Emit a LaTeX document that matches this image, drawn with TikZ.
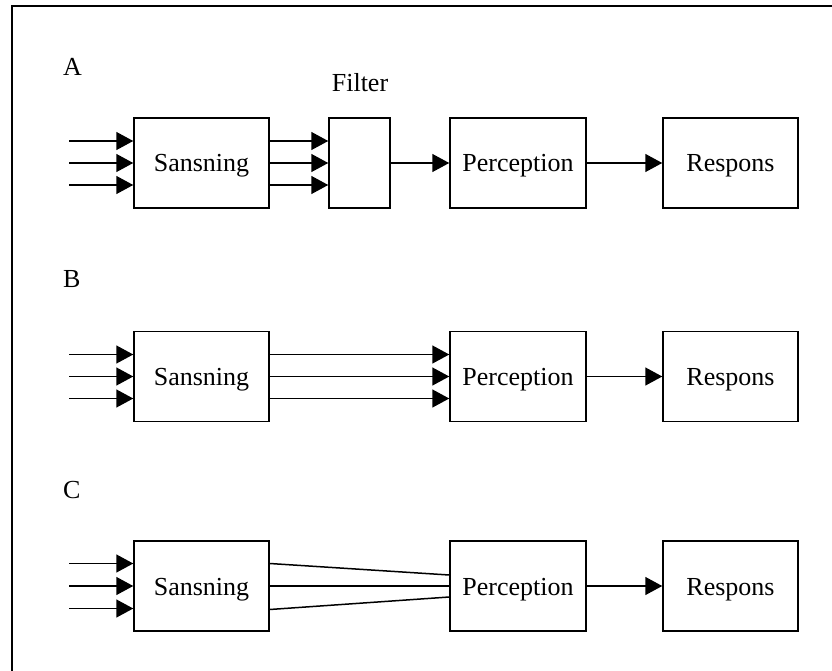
\documentclass[tikz,border=0pt]{standalone}
\usepackage{fontspec}
\setmainfont{Liberation Serif}
\usetikzlibrary{arrows.meta}
\begin{document}
\begin{tikzpicture}[x=1pt,y=-1pt,
  box/.style={draw,line width=1.5pt,minimum height=90pt,inner sep=0pt,
    text height=18pt,text depth=0pt,font=\fontsize{26}{30}\selectfont},
  lbl/.style={anchor=base west,inner sep=0pt,font=\fontsize{26}{30}\selectfont},
  conn/.style={line width=1.5pt},
  arr/.style={conn,-{Triangle[length=17pt,width=18pt]}},
  frame/.style={line width=2pt}]
\useasboundingbox (0,0) rectangle (832,671);
\coordinate (f0) at (12,671);
\coordinate (f1) at (12,6.5);
\coordinate (f2) at (832,6.5);
\draw[frame] (f0) -- (f1) -- (f2);

% Row A
\node[lbl] (la) at (63,76) {A};
\node[box,minimum width=135pt] (sa) at (201.5,163) {Sansning};
\node[box,minimum width=61pt] (fa) at (359.5,163) {};
\node[inner sep=0pt,anchor=base,font=\fontsize{26}{30}\selectfont] (fl) at (360,92) {Filter};
\node[box,minimum width=136pt] (pa) at (518,163) {Perception};
\node[box,minimum width=135pt] (ra) at (730.5,163) {Respons};
\foreach \d in {22,0,-22}{
  \draw[arr] ([xshift=-64pt,yshift=\d pt]sa.west) -- ([yshift=\d pt]sa.west);
  \draw[arr] ([yshift=\d pt]sa.east) -- ([yshift=\d pt]fa.west);
}
\draw[arr] (fa) -- (pa);
\draw[arr] (pa) -- (ra);

% Row B
\node[lbl] (lb) at (63,287) {B};
\node[box,minimum width=135pt] (sb) at (201.5,376.5) {Sansning};
\node[box,minimum width=136pt] (pb) at (518,376.5) {Perception};
\node[box,minimum width=135pt] (rb) at (730.5,376.5) {Respons};
\foreach \d in {22,0,-22}{
  \draw[arr] ([xshift=-64pt,yshift=\d pt]sb.west) -- ([yshift=\d pt]sb.west);
  \draw[arr] ([yshift=\d pt]sb.east) -- ([yshift=\d pt]pb.west);
}
\draw[arr] (pb) -- (rb);

% Row C
\node[lbl] (lc) at (63,498) {C};
\node[box,minimum width=135pt] (sc) at (201.5,586) {Sansning};
\node[box,minimum width=136pt] (pc) at (518,586) {Perception};
\node[box,minimum width=135pt] (rc) at (730.5,586) {Respons};
\foreach \d in {22.5,0,-22.5}{
  \draw[arr] ([xshift=-64pt,yshift=\d pt]sc.west) -- ([yshift=\d pt]sc.west);
}
\draw[conn] ([yshift=22.5pt]sc.east) -- ([yshift=11pt]pc.west);
\draw[conn] (sc.east) -- (pc.west);
\draw[conn] ([yshift=-23.5pt]sc.east) -- ([yshift=-11pt]pc.west);
\draw[arr] (pc) -- (rc);
\end{tikzpicture}
\end{document}
